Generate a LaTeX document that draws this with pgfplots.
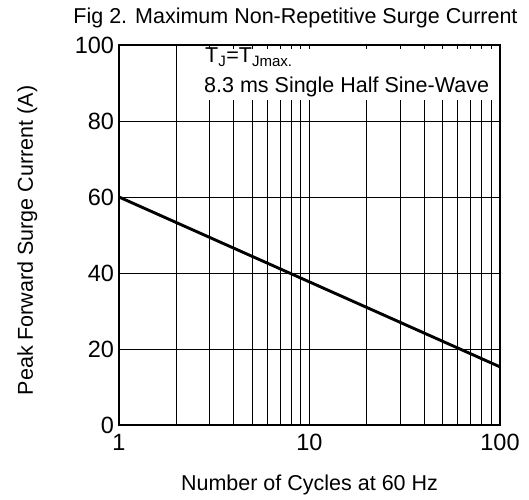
\documentclass[border=0pt]{standalone}
\usepackage{pgfplots}
\pgfplotsset{compat=1.18}
\usepackage{fontspec}
\setmainfont{Liberation Sans}

\newcommand{\lbl}{\fontsize{21.5bp}{25bp}\selectfont}

\begin{document}
\begin{tikzpicture}
\begin{axis}[
    name=ax,
    scale only axis,
    width=381bp, height=380bp,
    xmode=log,
    xmin=1, xmax=100,
    ymin=0, ymax=100,
    xtick={1,10,100},
    xticklabels={1,10,100},
    minor xtick={2,3,4,5,6,7,8,9,20,30,40,50,60,70,80,90},
    ytick={0,20,40,60,80,100},
    grid=both,
    grid style={black, line width=0.8bp},
    minor grid style={black, line width=0.8bp},
    major tick length=0pt, minor tick length=0pt,
    axis line style={line width=1.6bp},
    tick label style={font=\fontsize{23.5bp}{27bp}\selectfont},
    xticklabel style={yshift=-6bp},
    yticklabel style={xshift=-1.5bp},
    /pgf/number format/assume math mode=true,
    clip=false,
]
\addplot[black, line width=2.9bp] coordinates {(1,60) (100,15.3)};
\fill[white] (rel axis cs:0.19,0.99) rectangle (rel axis cs:0.996,0.855);
\end{axis}

% title, labels and note
\node[anchor=base, font=\lbl] at ([shift={(-14bp,21bp)}]ax.north)
    {Fig 2. Maximum Non-Repetitive Surge Current};
\node[anchor=base, font=\lbl] at ([yshift=-65bp]ax.south)
    {Number of Cycles at 60 Hz};
\node[anchor=base, rotate=90, font=\lbl] at ([shift={(-86bp,-5.5bp)}]ax.west)
    {Peak Forward Surge Current (A)};
\node[anchor=base west, inner sep=0pt, font=\lbl] at ([shift={(86bp,-18bp)}]ax.north west)
    {T\textsubscript{J}=T\textsubscript{Jmax.}};
\node[anchor=base west, inner sep=0pt, font=\lbl] at ([shift={(85bp,-48bp)}]ax.north west)
    {8.3 ms Single Half Sine-Wave};

\path ([shift={(-119bp,-75bp)}]ax.south west) rectangle ([shift={(29bp,45bp)}]ax.north east);
\end{tikzpicture}
\end{document}
